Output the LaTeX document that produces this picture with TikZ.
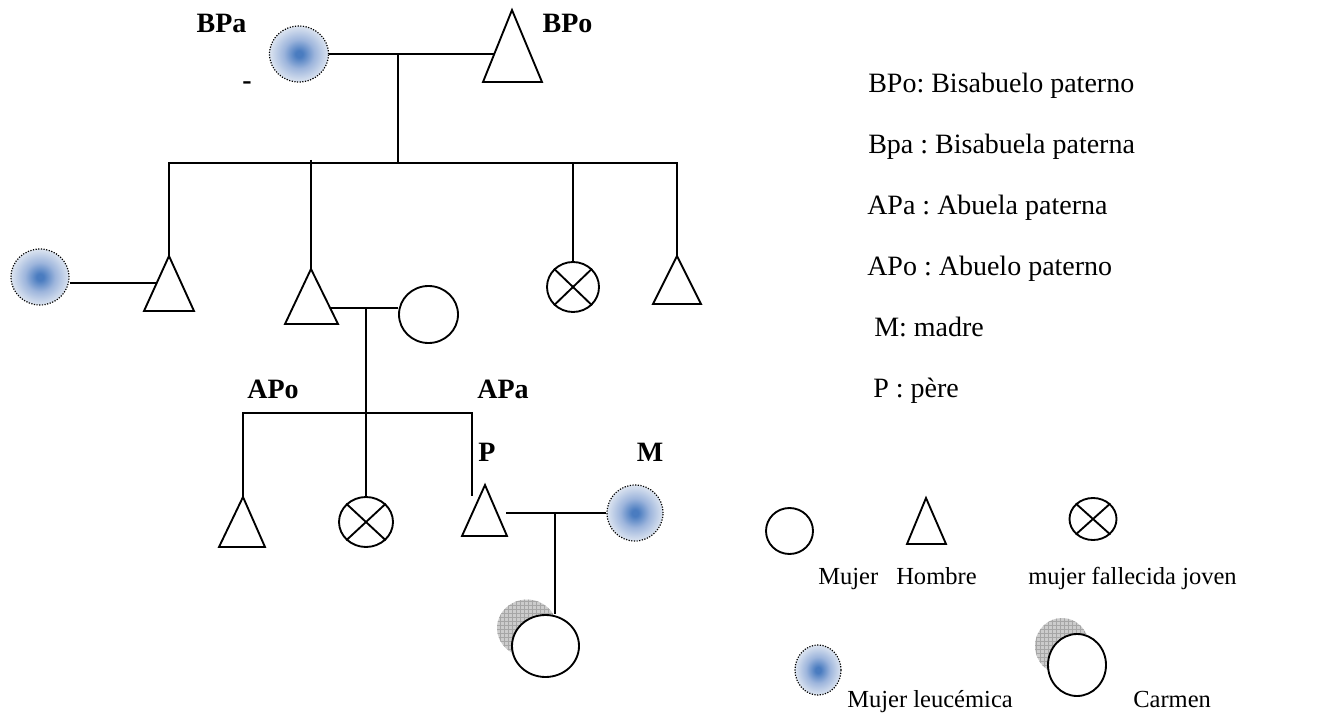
\documentclass[tikz,border=0pt]{standalone}
\usepackage{fontspec}
\setmainfont{Liberation Serif}
\usetikzlibrary{shapes.geometric,patterns}
\definecolor{lbc}{HTML}{4A7CC0}
\definecolor{lbm}{HTML}{9DB5DC}
\definecolor{lbo}{HTML}{DCE4F0}
\pgfdeclareradialshading{leukshade}{\pgfpoint{0bp}{0bp}}{color(0bp)=(lbc); color(3bp)=(lbc); color(13bp)=(lbm); color(25bp)=(lbo); color(50bp)=(lbo)}
\frenchspacing
\begin{document}
\begin{tikzpicture}[x=0.75pt,y=-0.75pt,
  ln/.style={line width=1.4pt},
  fem/.style={ellipse, draw, line width=1.4pt, inner sep=0pt, fill=white},
  leuk/.style={ellipse, shade, shading=leukshade, draw=black, line width=0.9pt, dash pattern=on 0.9pt off 1.1pt, inner sep=0pt},
  shadow/.style={ellipse, inner sep=0pt, fill=gray!40, postaction={pattern=grid, pattern color=gray!70}},
  lab/.style={font=\fontsize{21}{25}\selectfont\bfseries, inner sep=0pt},
  leg/.style={font=\fontsize{21}{25}\selectfont, inner sep=0pt, anchor=base west},
  legb/.style={font=\fontsize{18.4}{22}\selectfont, inner sep=0pt, anchor=base west},
]
\useasboundingbox (0,0) rectangle (1335,713);

% ---- generation I
\node[leuk, minimum width=44.25pt, minimum height=42pt] (bpa) at (299,54) {};
\coordinate (bpo) at (512,10);
\draw[ln] (bpo) -- (542,82) -- (483,82) -- cycle;
\coordinate (bpoS) at (494.3,54);
\draw[ln] (bpa.east) -- (bpoS);
\coordinate (top) at (398,54);
\coordinate (sib1) at (398,163);
\draw[ln] (top) -- (sib1);

% ---- generation II
\coordinate (t1) at (169,256);
\draw[ln] (t1) -- (194,311) -- (144,311) -- cycle;
\coordinate (t2) at (311,269);
\draw[ln] (t2) -- (338,324) -- (285,324) -- cycle;
\coordinate (t3) at (677,256);
\draw[ln] (t3) -- (701,304) -- (653,304) -- cycle;
\node[fem, minimum width=39pt, minimum height=37.5pt] (x1) at (573,287) {};
\draw[ln] (x1.north east) -- (x1.south west) (x1.north west) -- (x1.south east);
\coordinate (s1L) at (169,163);
\coordinate (s1R) at (677,163);
\draw[ln] (t1) -- (s1L) -- (s1R) -- (t3);
\coordinate (d2) at (311,160);
\draw[ln] (d2) -- (t2);
\coordinate (d3) at (573,163);
\draw[ln] (d3) -- (x1.north);

\node[leuk, minimum width=43.5pt, minimum height=42pt] (l1) at (40,277) {};
\coordinate (t1s) at (156.7,283);
\draw[ln] (t1s) -- (l1.east |- t1s);

\node[fem, minimum width=44.25pt, minimum height=42.75pt] (w1) at (428.5,314.5) {};
\coordinate (t2s) at (331,308);
\draw[ln] (t2s) -- (w1.west |- t2s);

% ---- generation III
\coordinate (c1) at (366,308);
\node[fem, minimum width=40.5pt, minimum height=37.5pt] (x2) at (366,522) {};
\draw[ln] (x2.north east) -- (x2.south west) (x2.north west) -- (x2.south east);
\draw[ln] (c1) -- (x2.north);
\coordinate (t4) at (243,497);
\draw[ln] (t4) -- (265,547) -- (219,547) -- cycle;
\coordinate (s2L) at (243,413);
\coordinate (s2R) at (472,413);
\coordinate (pfree) at (472,496);
\draw[ln] (t4) -- (s2L) -- (s2R) -- (pfree);
\coordinate (t5) at (485,485);
\draw[ln] (t5) -- (507,536) -- (462,536) -- cycle;
\node[leuk, minimum width=42pt, minimum height=42pt] (m) at (635,513) {};
\coordinate (m2a) at (506,513);
\draw[ln] (m2a) -- (m.west);

% ---- generation IV (Carmen)
\node[shadow, minimum width=45pt, minimum height=42.75pt] (csh) at (527,628) {};
\node[fem, minimum width=50.25pt, minimum height=46.5pt] (carmen) at (545.5,646) {};
\coordinate (c2) at (555,513);
\draw[ln] (c2) -- (carmen.north -| c2);

% ---- bold labels
\node[lab] (lBPa) at (221.5,23) {BPa};
\node[lab] (lBPo) at (567.5,23) {BPo};
\node[lab] (ldash) at (247,86) {-};
\node[lab] (lAPo) at (273,389) {APo};
\node[lab] (lAPa) at (503,389) {APa};
\node[lab] (lP) at (487,452) {P};
\node[lab] (lM) at (650,452) {M};

% ---- legend text
\node[leg] (g1) at (868,92.5) {BPo: Bisabuelo paterno};
\node[leg] (g2) at (868,153.5) {Bpa : Bisabuela paterna};
\node[leg] (g3) at (867,214.5) {APa : Abuela paterna};
\node[leg] (g4) at (867,275.5) {APo : Abuelo paterno};
\node[leg] (g5) at (874,336.5) {M: madre};
\node[leg] (g6) at (873,397.5) {P : père};

% ---- legend symbols
\node[fem, minimum width=35.25pt, minimum height=34.5pt] (kw) at (789.5,531) {};
\coordinate (kh) at (926,498);
\draw[ln] (kh) -- (946,544) -- (907,544) -- cycle;
\node[fem, minimum width=35.25pt, minimum height=31.5pt] (kx) at (1093,519) {};
\draw[ln] (kx.north east) -- (kx.south west) (kx.north west) -- (kx.south east);
\node[legb] (k1) at (818,584) {Mujer};
\node[legb] (k2) at (896,584) {Hombre};
\node[legb] (k3) at (1028,584) {mujer fallecida joven};
\node[leuk, minimum width=34.5pt, minimum height=37.5pt] (kl) at (818,670) {};
\node[legb] (k4) at (847,707) {Mujer leucémica};
\node[shadow, minimum width=40.5pt, minimum height=42pt] (kcs) at (1062,646) {};
\node[fem, minimum width=43.5pt, minimum height=46.5pt] (kc) at (1077,665) {};
\node[legb] (k5) at (1133,707) {Carmen};
\end{tikzpicture}
\end{document}
